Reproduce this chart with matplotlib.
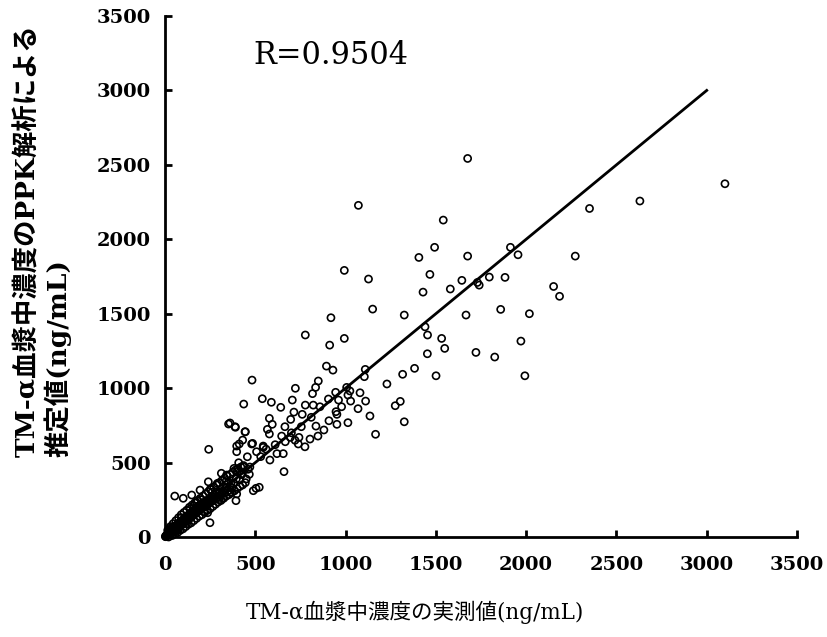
import matplotlib
matplotlib.use("Agg")
import matplotlib.pyplot as plt

# ---- data (measured vs PPK-estimated, ng/mL) ----
# sparse / high-concentration points
x_high = [1676, 3101, 2630, 2351, 1541, 1493, 1406, 1676, 1913, 1955, 2272, 1467,
          1429, 1644, 1580, 1730, 1740, 1796, 1883, 1325, 1667, 1859, 2018, 2152,
          2185, 1440, 1454, 1532, 1549, 1453, 1722, 1826, 1971, 1993, 1501, 1382,
          1316, 1229, 1303, 1275, 1325,
          1071, 993, 1127, 1150, 919, 777, 993, 912, 894, 930, 1109, 1104]
y_high = [2543, 2373, 2257, 2207, 2129, 1946, 1878, 1887, 1946, 1896, 1887, 1764,
          1645, 1724, 1666, 1710, 1692, 1746, 1744, 1491, 1491, 1529, 1500, 1683,
          1617, 1412, 1357, 1334, 1267, 1231, 1240, 1209, 1316, 1083, 1083, 1133,
          1093, 1028, 911, 882, 774,
          2228, 1791, 1733, 1531, 1473, 1357, 1334, 1289, 1148, 1121, 1126, 1077]

# mid-range points
x_mid = [482, 849, 834, 722, 817, 945, 1006, 1024, 1080, 1013, 539, 589, 436, 705,
         905, 961, 1028, 1111, 641, 777, 821, 858, 978, 1069, 714, 760, 947, 1135,
         578, 696, 810, 952, 1013, 952, 908, 594, 664, 836, 755, 390, 360, 567, 880,
         445, 578, 646, 694, 742, 847, 1166, 803, 430, 666, 544, 738, 775, 480, 397,
         242, 411, 485, 397, 544, 507, 456, 581, 408, 433, 382, 312, 341, 467, 415,
         489, 522, 504, 659, 352, 388, 443, 620, 700, 560, 530, 470, 610, 655, 720]
y_mid = [1054, 1048, 1005, 999, 963, 972, 1005, 981, 969, 954, 929, 905, 893, 920,
         927, 920, 913, 913, 871, 886, 886, 875, 875, 862, 839, 824, 842, 813,
         797, 790, 804, 824, 768, 757, 781, 757, 741, 745, 741, 737, 766, 723, 719,
         707, 692, 678, 669, 669, 678, 690, 658, 651, 640, 611, 625, 606, 625, 611,
         589, 625, 629, 573, 602, 573, 539, 517, 499, 472, 461, 428, 416, 421, 383,
         311, 334, 327, 439, 759, 741, 707, 560, 700, 590, 540, 470, 620, 560, 650]

# dense low-concentration cluster
x_low = [2, 4, 6, 8, 10, 12, 14, 16, 18, 20, 22, 25, 28, 30, 33, 35, 38, 40, 42, 45,
         48, 50, 53, 55, 58, 60, 63, 65, 68, 70, 73, 75, 78, 80, 83, 85, 88, 90, 93,
         95, 98, 100, 102, 105, 108, 110, 112, 115, 118, 120, 122, 125, 128, 130,
         133, 135, 138, 140, 142, 145, 148, 150, 153, 155, 158, 160, 163, 165, 168,
         170, 173, 175, 178, 180, 183, 185, 188, 190, 193, 195, 198, 200, 205, 210,
         215, 220, 225, 230, 235, 240, 245, 250, 255, 260, 265, 270, 275, 280, 285,
         290, 300, 310, 320, 330, 340, 350, 360, 370, 380, 54, 101, 148, 249, 236,
         393, 397, 240, 194, 30, 60, 90, 120, 160, 200, 260, 300, 340, 25, 45, 75,
         140, 175, 215, 250, 320, 290, 360, 420, 450, 400]
y_low = [4, 2, 9, 5, 14, 8, 20, 11, 24, 16, 30, 18, 38, 22, 45, 28, 50, 34, 55, 38,
         60, 44, 66, 48, 72, 52, 78, 56, 84, 60, 88, 66, 94, 70, 98, 75, 104, 80,
         108, 86, 112, 92, 118, 96, 124, 100, 130, 104, 136, 110, 140, 114, 146,
         120, 150, 124, 156, 130, 160, 134, 166, 140, 172, 144, 176, 150, 182, 154,
         188, 160, 192, 166, 198, 170, 204, 176, 210, 180, 214, 186, 220, 192, 226,
         200, 232, 206, 238, 214, 246, 222, 252, 232, 260, 240, 270, 248, 280, 256,
         290, 262, 300, 280, 310, 296, 330, 312, 340, 330, 360, 275, 260, 282, 96,
         163, 244, 289, 371, 315, 60, 40, 130, 90, 210, 250, 300, 250, 380, 15, 70,
         50, 190, 230, 170, 320, 260, 360, 300, 420, 390, 440]

# extra cluster points forming the wide band near the origin
x_band = [15, 30, 45, 60, 75, 90, 105, 120, 135, 150, 165, 180, 195, 210, 225, 240,
          255, 270, 285, 300, 315, 330, 345, 360, 375, 390, 405, 420, 435,
          20, 40, 55, 70, 85, 100, 115, 130, 145, 160, 175, 190, 205, 220, 235,
          250, 265, 280, 295, 310, 325, 340, 355, 370, 385, 400, 415, 430, 445,
          35, 65, 95, 125, 155, 185, 215, 245, 275, 305, 335, 365, 395, 425, 460]
y_band = [45, 70, 90, 110, 130, 150, 165, 180, 200, 215, 230, 245, 260, 275, 290, 305,
          320, 335, 350, 365, 380, 395, 410, 420, 435, 450, 460, 470, 480,
          0, 10, 20, 30, 45, 55, 70, 85, 95, 110, 125, 140, 150, 165, 180,
          190, 205, 220, 235, 245, 260, 275, 285, 300, 310, 325, 340, 350, 365,
          35, 60, 95, 120, 150, 180, 210, 240, 270, 300, 330, 360, 390, 420, 455]

x_ticks = [0, 500, 1000, 1500, 2000, 2500, 3000, 3500]
y_ticks = [0, 500, 1000, 1500, 2000, 2500, 3000, 3500]
line_x = [0, 3000]
line_y = [0, 3000]
r_label = "R=0.9504"
x_label = "TM-α血漿中濃度の実測値(ng/mL)"
y_label = "TM-α血漿中濃度のPPK解析による\n推定値(ng/mL)"

xs = x_high + x_mid + x_low + x_band
ys = y_high + y_mid + y_low + y_band

fig = plt.figure(figsize=(8.27, 6.37), dpi=100)
ax = fig.add_axes([165/827, 1-537/637, (797-165)/827, (537-16)/637])

ax.scatter(xs, ys, s=26, facecolors="none", edgecolors="black", linewidths=1.2,
           zorder=2, clip_on=False)
ax.plot(line_x, line_y, color="black", lw=2.0, zorder=3)

ax.set_xlim(0, 3500)
ax.set_ylim(0, 3500)
ax.set_xticks(x_ticks)
ax.set_yticks(y_ticks)
for s in ["top", "right"]:
    ax.spines[s].set_visible(False)
for s in ["left", "bottom"]:
    ax.spines[s].set_linewidth(2.0)
ax.tick_params(direction="in", length=5, width=2.0)
ax.tick_params(axis="x", pad=14)
ax.tick_params(axis="y", pad=10)
for lab in ax.get_xticklabels() + ax.get_yticklabels():
    lab.set_fontfamily("DejaVu Serif")
    lab.set_fontweight("bold")
    lab.set_fontsize(14)

ax.text(253/827, 1-56/637, r_label, transform=fig.transFigure,
        fontsize=22, family="DejaVu Serif", va="center", ha="left")

fams = ["DejaVu Serif", "Noto Sans CJK JP"]
fig.text(415/827, 1-612/637, x_label, ha="center", va="center",
         fontsize=15.5, family=fams, fontweight="normal")
fig.text(43/827, 1-457/637, y_label, ha="center", va="bottom", rotation=90,
         multialignment="left",
         fontsize=19, family=fams, fontweight="bold", linespacing=1.15)

fig.savefig("out.png", dpi=100)
